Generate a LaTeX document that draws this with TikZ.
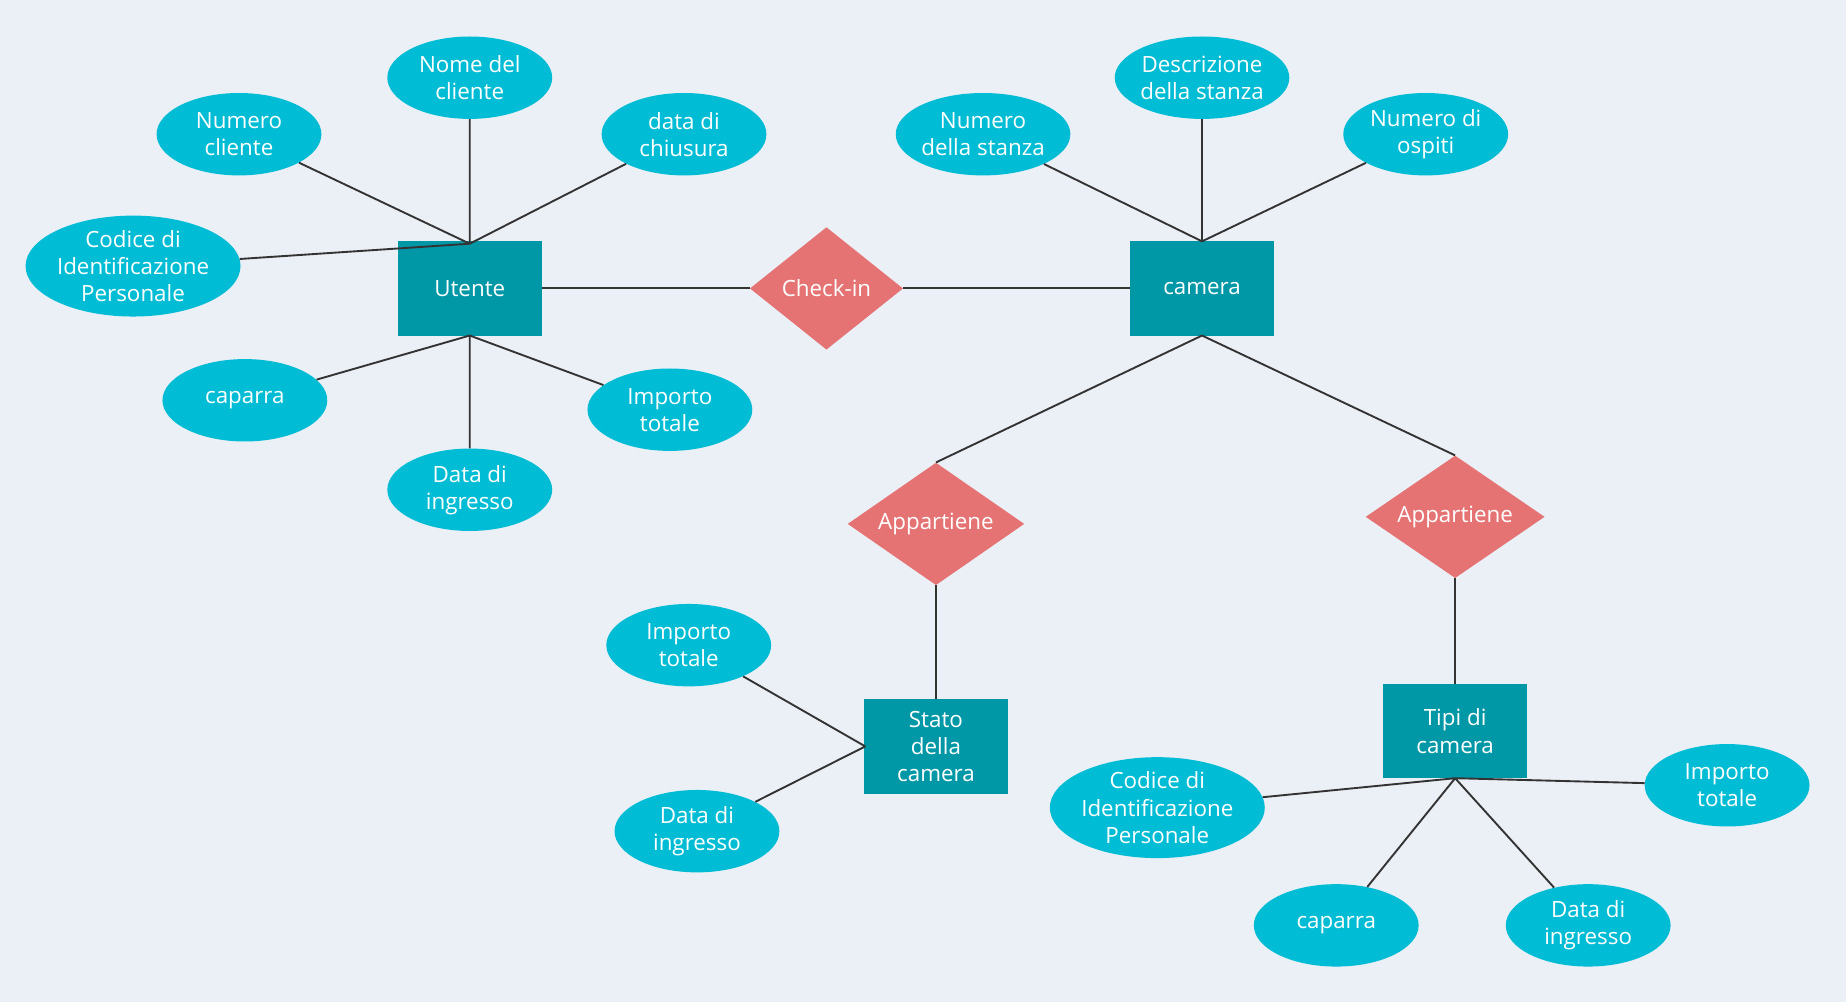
\documentclass[tikz,border=0pt]{standalone}
\usepackage{fontspec}
\setmainfont{Open Sans}
\usetikzlibrary{shapes.geometric}
\definecolor{bg}{HTML}{EBEFF6}
\definecolor{ell}{HTML}{00BCD4}
\definecolor{ent}{HTML}{0097A7}
\definecolor{rel}{HTML}{E57373}
\definecolor{ln}{HTML}{333333}
\begin{document}
\begin{tikzpicture}[x=1pt,y=-1pt,
 every node/.style={font=\fontsize{19}{23}\selectfont,text=white,align=center,inner sep=0pt},
 attr/.style={ellipse,fill=ell,minimum width=140,minimum height=70},
 entity/.style={rectangle,fill=ent,minimum width=122,minimum height=80},
 relat/.style={diamond,fill=rel,aspect=1.25},
 conn/.style={draw=ln,line width=1.6pt}]
\fill[bg] (0,0) rectangle (1568,851);
\useasboundingbox (0,0) rectangle (1568,851);
% entities
\node[entity] (ut) at (399,245) {Utente};
\node[entity] (cam) at (1021,245) {camera};
\node[entity] (st) at (795,634) {Stato\\della\\camera};
\node[entity] (tp) at (1236,621) {Tipi di\\camera};
% relations
\node[relat,minimum width=130,minimum height=104] (ci) at (702,245) {Check-in};
\node[relat,minimum width=150,minimum height=104] (ap1) at (795,445) {Appartiene};
\node[relat,minimum width=152,minimum height=104] (ap2) at (1236,439) {Appartiene};
% attributes
\node[attr] (a1) at (203,114) {Numero\\cliente};
\node[attr] (a2) at (399,66) {Nome del\\cliente};
\node[attr] (a3) at (581,114) {data di\\chiusura};
\node[attr,minimum width=165,minimum height=84] (a4) at (113,226) {Codice di\\Identificazione\\Personale};
\node[attr] (a5) at (208,340) {caparra};
\node[attr] (a6) at (399,416) {Data di\\ingresso};
\node[attr] (a7) at (569,348) {Importo\\totale};
\node[attr] (b1) at (835,114) {Numero\\della stanza};
\node[attr] (b2) at (1021,66) {Descrizione\\della stanza};
\node[attr] (b3) at (1211,114) {Numero di\\ospiti};
\node[attr] (c1) at (585,548) {Importo\\totale};
\node[attr] (c2) at (592,706) {Data di\\ingresso};
\node[attr,minimum width=180,minimum height=80] (d1) at (983,686) {Codice di\\Identificazione\\Personale};
\node[attr] (d2) at (1135,786) {caparra};
\node[attr] (d3) at (1349,786) {Data di\\ingresso};
\node[attr] (d4) at (1467,667) {Importo\\totale};
% hubs
\coordinate (ut-t) at (399,207);
\coordinate (ut-b) at (399,285);
\coordinate (cam-t) at (1021,205);
\coordinate (cam-b) at (1021,285);
\coordinate (st-l) at (735,634);
\coordinate (tp-b) at (1236,661);
\begin{scope}[on background layer/.style={}]
\end{scope}
\begin{scope}
\path[conn] (ut-t) -- (a1) (ut-t) -- (a2) (ut-t) -- (a3) (ut-t) -- (a4);
\path[conn] (ut-b) -- (a5) (ut-b) -- (a6) (ut-b) -- (a7);
\path[conn] (ut) -- (ci) (ci) -- (cam);
\path[conn] (cam-t) -- (b1) (cam-t) -- (b2) (cam-t) -- (b3);
\path[conn] (cam-b) -- (ap1.north) (cam-b) -- (ap2.north);
\path[conn] (ap1) -- (st) (ap2) -- (tp);
\path[conn] (st-l) -- (c1) (st-l) -- (c2);
\path[conn] (tp-b) -- (d1) (tp-b) -- (d2) (tp-b) -- (d3) (tp-b) -- (d4);
\end{scope}
\end{tikzpicture}
\end{document}
